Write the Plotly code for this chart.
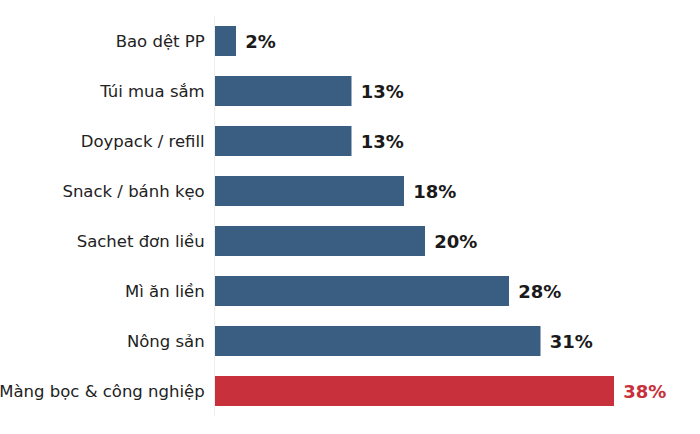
import plotly.graph_objects as go

# share of usage by packaging segment (%)
segments = ["Bao dệt PP", "Túi mua sắm", "Doypack / refill", "Snack / bánh kẹo",
            "Sachet đơn liều", "Mì ăn liền", "Nông sản", "Màng bọc & công nghiệp"]
shares = [2, 13, 13, 18, 20, 28, 31, 38]
highlight = "Màng bọc & công nghiệp"

blue = "#3a5e82"
red = "#c8303b"
bar_colors = [red if s == highlight else blue for s in segments]
text_colors = [red if s == highlight else "#1a1a1a" for s in segments]

fig = go.Figure(go.Bar(
    x=shares,
    y=segments,
    orientation="h",
    marker=dict(color=bar_colors, line=dict(width=0)),
    width=0.6,
    text=[f" {v}%" for v in shares],
    textposition="outside",
    textfont=dict(family="DejaVu Sans", size=18, color=text_colors, weight="bold"),
    cliponaxis=False,
))

fig.update_layout(
    width=700, height=434,
    margin=dict(l=215, r=23, t=16, b=18),
    paper_bgcolor="white", plot_bgcolor="white",
    showlegend=False,
    font=dict(family="DejaVu Sans", size=16.5, color="#222222"),
)
fig.update_xaxes(range=[0, 44], visible=False, automargin=False)
fig.update_yaxes(
    autorange="reversed", automargin=False,
    showgrid=False, ticks="", ticklen=0,
    ticklabelstandoff=6,
    showline=True, linecolor="#eeeeee", linewidth=1,
    tickfont=dict(size=16.5, color="#222222"),
)

# drop the page's default body margin so the figure fills the window
fig.write_html("out.html",
               config={"displayModeBar": False},
               post_script="document.body.style.margin='0';document.body.style.overflow='hidden';")
